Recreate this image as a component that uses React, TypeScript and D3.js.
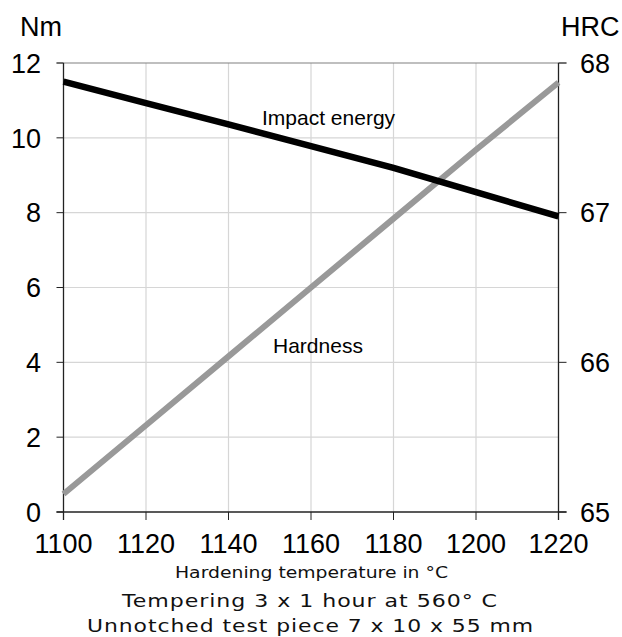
import React from "react";
import * as d3 from "d3";

const temps = [1100, 1120, 1140, 1160, 1180, 1200, 1220];
const impactEnergy = [11.5, 10.93, 10.36, 9.78, 9.2, 8.55, 7.9];
const hardness = [65.12, 65.58, 66.04, 66.5, 66.96, 67.42, 67.87];
const xTicks = [1100, 1120, 1140, 1160, 1180, 1200, 1220];
const leftTicks = [0, 2, 4, 6, 8, 10, 12];
const rightTicks = [65, 66, 67, 68];

const W = 622, H = 637;
const L = 63.5, R = 558.5, T = 63, B = 512;

export default function App() {
  const x = d3.scaleLinear().domain([1100, 1220]).range([L, R]);
  const yL = d3.scaleLinear().domain([0, 12]).range([B, T]);
  const yR = d3.scaleLinear().domain([65, 68]).range([B, T]);
  const impactLine = d3.line<number>().x((_, i) => x(temps[i])).y((d) => yL(d))(impactEnergy) || "";
  const hardLine = d3.line<number>().x((_, i) => x(temps[i])).y((d) => yR(d))(hardness) || "";
  const axisFont = "'Liberation Sans', Arial, sans-serif";
  const capFont = "'DejaVu Sans', 'Noto Sans', sans-serif";
  return (
    <svg width={W} height={H} style={{ position: "absolute", left: 0, top: 0, background: "#fff" }}>
      {/* grid */}
      {xTicks.slice(1, -1).map((t) => (
        <line key={"gx" + t} x1={x(t)} x2={x(t)} y1={T} y2={B} stroke="#d6d6d6" strokeWidth={1.2} />
      ))}
      {leftTicks.slice(1, -1).map((t) => (
        <line key={"gy" + t} x1={L} x2={R} y1={yL(t)} y2={yL(t)} stroke="#d6d6d6" strokeWidth={1.2} />
      ))}
      {/* top border */}
      <line x1={L - 7} x2={R + 8} y1={T} y2={T} stroke="#808080" strokeWidth={1.2} />
      {/* axes */}
      <line x1={L} x2={L} y1={T} y2={B + 8} stroke="#222" strokeWidth={1.3} />
      <line x1={R} x2={R} y1={T} y2={B + 8} stroke="#222" strokeWidth={1.3} />
      <line x1={L - 7} x2={R + 8} y1={B} y2={B} stroke="#222" strokeWidth={1.3} />
      {leftTicks.map((t) => (
        <g key={"lt" + t}>
          <line x1={L - 7} x2={L} y1={yL(t)} y2={yL(t)} stroke="#222" strokeWidth={1} />
          <text x={41} y={yL(t)} dy="0.36em" textAnchor="end" fontFamily={axisFont} fontSize={27} fill="#000">{t}</text>
        </g>
      ))}
      {rightTicks.map((t) => (
        <g key={"rt" + t}>
          <line x1={R} x2={R + 8} y1={yR(t)} y2={yR(t)} stroke="#222" strokeWidth={1} />
          <text x={580} y={yR(t)} dy="0.36em" textAnchor="start" fontFamily={axisFont} fontSize={27} fill="#000">{t}</text>
        </g>
      ))}
      {xTicks.map((t) => (
        <g key={"xt" + t}>
          <line x1={x(t)} x2={x(t)} y1={B} y2={B + 8} stroke="#222" strokeWidth={1} />
          <text x={x(t)} y={553} textAnchor="middle" fontFamily={axisFont} fontSize={27} fill="#000">{t}</text>
        </g>
      ))}
      {/* series */}
      <path d={hardLine} fill="none" stroke="#999999" strokeWidth={6} />
      <path d={impactLine} fill="none" stroke="#000" strokeWidth={6.5} />
      {/* labels */}
      <text x={262} y={125} fontFamily={axisFont} fontSize={21} fill="#000">Impact energy</text>
      <text x={273} y={353} fontFamily={axisFont} fontSize={21} fill="#000">Hardness</text>
      <text x={20} y={36} fontFamily={axisFont} fontSize={27} fill="#000">Nm</text>
      <text x={561} y={36} fontFamily={axisFont} fontSize={27} fill="#000">HRC</text>
      <text x={175} y={578} textLength={273} lengthAdjust="spacingAndGlyphs" fontFamily={capFont} fontSize={15.5} fill="#111">Hardening temperature in °C</text>
      <text x={122} y={607} textLength={376} lengthAdjust="spacingAndGlyphs" letterSpacing={0.8} fontFamily={capFont} fontSize={18.5} fill="#111">Tempering 3 x 1 hour at 560° C</text>
      <text x={87} y={632} textLength={447} lengthAdjust="spacingAndGlyphs" letterSpacing={0.8} fontFamily={capFont} fontSize={18.5} fill="#111">Unnotched test piece 7 x 10 x 55 mm</text>
    </svg>
  );
}
